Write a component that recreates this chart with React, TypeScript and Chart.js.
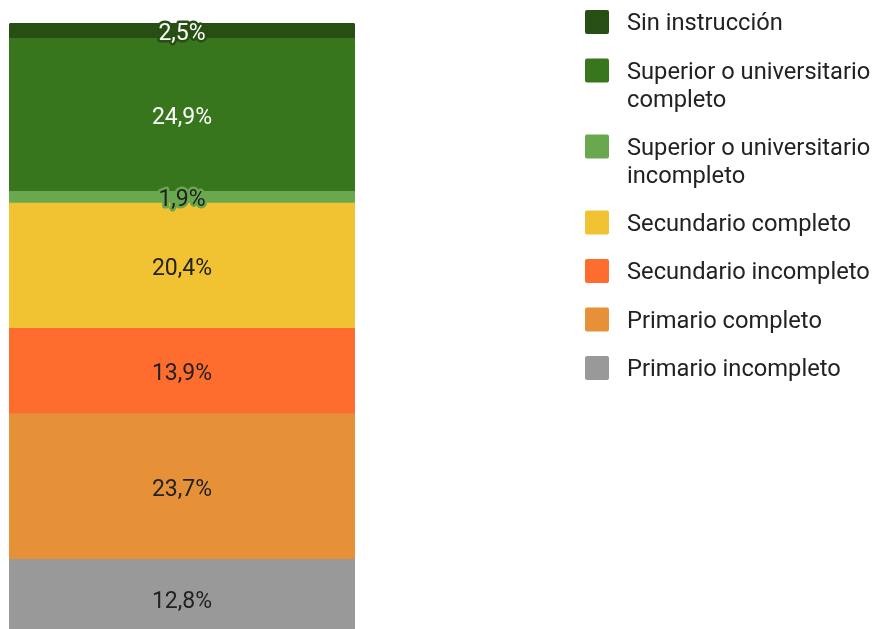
import React, { useEffect, useRef } from "react";
import { Chart, registerables } from "chart.js";

Chart.register(...registerables);

// Data (bottom to top of the stack)
const categories = ["Nivel educativo"];
const seriesNames = [
  "Primario incompleto",
  "Primario completo",
  "Secundario incompleto",
  "Secundario completo",
  "Superior o universitario incompleto",
  "Superior o universitario completo",
  "Sin instrucción",
];
const seriesValues = [12.8, 23.7, 13.9, 20.4, 1.9, 24.9, 2.5];
const seriesColors = [
  "#999999",
  "#e69138",
  "#ff6d2e",
  "#f1c232",
  "#6aa84f",
  "#38761d",
  "#274e13",
];
const labelColors = ["#222222", "#222222", "#222222", "#222222", "#222222", "#ffffff", "#ffffff"];

const FONT = "Roboto, 'Noto Sans', Arial, sans-serif";

const fmt = (v: number) => v.toFixed(1).replace(".", ",") + "%";

const labelsPlugin = {
  id: "segLabels",
  afterDatasetsDraw(chart: any) {
    const ctx = chart.ctx;
    ctx.save();
    ctx.font = `23px ${FONT}`;
    ctx.textAlign = "center";
    ctx.textBaseline = "middle";
    ctx.lineJoin = "round";
    chart.data.datasets.forEach((ds: any, i: number) => {
      const meta = chart.getDatasetMeta(i);
      meta.data.forEach((el: any, j: number) => {
        const v = ds.data[j];
        const x = el.x;
        const y = (el.y + el.base) / 2 + 3.5;
        const t = fmt(v);
        ctx.lineWidth = 5;
        ctx.strokeStyle = seriesColors[i];
        ctx.strokeText(t, x, y);
        ctx.fillStyle = labelColors[i];
        ctx.fillText(t, x, y);
      });
    });
    ctx.restore();
  },
};

const legendPlugin = {
  id: "sideLegend",
  afterDraw(chart: any) {
    const ctx = chart.ctx;
    ctx.save();
    ctx.font = `23.7px ${FONT}`;
    ctx.textBaseline = "middle";
    ctx.textAlign = "left";
    const boxX = 585;
    const textX = 627;
    const maxW = 248;
    const lineH = 28;
    let y = 22;
    for (let k = seriesNames.length - 1; k >= 0; k--) {
      // wrap
      const words = seriesNames[k].split(" ");
      const lines: string[] = [];
      let cur = "";
      for (const w of words) {
        const test = cur ? cur + " " + w : w;
        if (ctx.measureText(test).width > maxW && cur) {
          lines.push(cur);
          cur = w;
        } else cur = test;
      }
      if (cur) lines.push(cur);
      ctx.fillStyle = seriesColors[k];
      ctx.beginPath();
      (ctx as any).roundRect(boxX, y - 12, 24, 24, 2);
      ctx.fill();
      ctx.fillStyle = "#222222";
      lines.forEach((ln, li) => ctx.fillText(ln, textX, y + li * lineH + 2.5));
      y += 48.5 + (lines.length - 1) * 27.5;
    }
    ctx.restore();
  },
};

export default function App() {
  const ref = useRef<HTMLCanvasElement | null>(null);
  useEffect(() => {
    if (!ref.current) return;
    const total = seriesValues.reduce((a, b) => a + b, 0);
    const chart = new Chart(ref.current, {
      type: "bar",
      data: {
        labels: categories,
        datasets: seriesNames.map((name, i) => ({
          label: name,
          data: [seriesValues[i]],
          backgroundColor: seriesColors[i],
          borderWidth: 0,
          barPercentage: 1,
          categoryPercentage: 1,
          borderRadius:
            i === seriesNames.length - 1
              ? { topLeft: 3, topRight: 3, bottomLeft: 0, bottomRight: 0 }
              : 0,
          borderSkipped: "start",
        })),
      },
      options: {
        animation: false,
        responsive: false,
        maintainAspectRatio: false,
        layout: { padding: { left: 9, right: 873 - 355, top: 23, bottom: 660 - 638 } },
        scales: {
          x: { stacked: true, display: false },
          y: { stacked: true, display: false, min: 0, max: total },
        },
        plugins: {
          legend: { display: false },
          tooltip: { enabled: false },
        },
      },
      plugins: [labelsPlugin, legendPlugin],
    });
    return () => chart.destroy();
  }, []);
  return (
    <div
      style={{
        position: "fixed",
        left: 0,
        top: 0,
        width: 873,
        height: 629,
        overflow: "hidden",
        background: "#ffffff",
      }}
    >
      <canvas ref={ref} width={873} height={660} style={{ display: "block" }} />
    </div>
  );
}
